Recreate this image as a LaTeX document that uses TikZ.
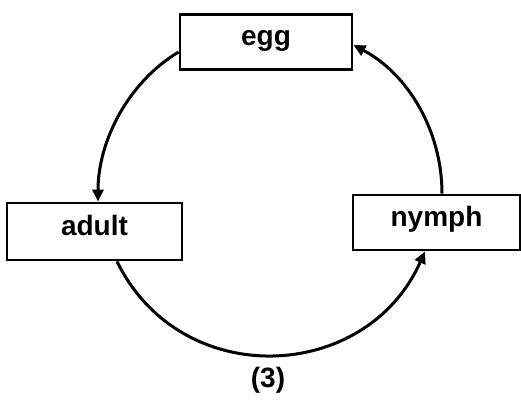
\documentclass[tikz,border=0pt]{standalone}
\usepackage{fontspec}
\setmainfont{Liberation Sans}
\usetikzlibrary{arrows.meta}
\begin{document}
\begin{tikzpicture}[x=1pt,y=-1pt,
  stagebox/.style={draw=black,line width=2.8pt,fill=white,inner sep=0pt,
    font=\fontsize{28}{30}\selectfont\bfseries,text height=0.72em,text depth=0pt},
  cyclearrow/.style={line width=3pt,-{Triangle[length=12pt,width=11pt]}},
  lbl/.style={font=\fontsize{28}{30}\selectfont\bfseries,inner sep=0pt}]
\useasboundingbox (0,0) rectangle (521,399);
\node[stagebox,minimum width=172pt,minimum height=55pt] (egg) at (266,42) {egg};
\node[stagebox,minimum width=175pt,minimum height=57pt] (adult) at (94.5,231.5) {adult};
\node[stagebox,minimum width=167pt,minimum height=55pt] (nymph) at (436.5,222.5) {nymph};
\node[lbl] (three) at (268,380) {(3)};
\draw[cyclearrow] ([yshift=-10pt]egg.west) to[out=211,in=90,looseness=0.9] ([xshift=3.5pt]adult.north);
\draw[cyclearrow] ([xshift=22.5pt]adult.south) to[out=-64,in=-114,looseness=1.2] ([xshift=-11.5pt]nymph.south);
\draw[cyclearrow] ([xshift=5.5pt]nymph.north) to[out=90,in=-28,looseness=0.92] ([yshift=-3pt]egg.east);
\end{tikzpicture}
\end{document}
